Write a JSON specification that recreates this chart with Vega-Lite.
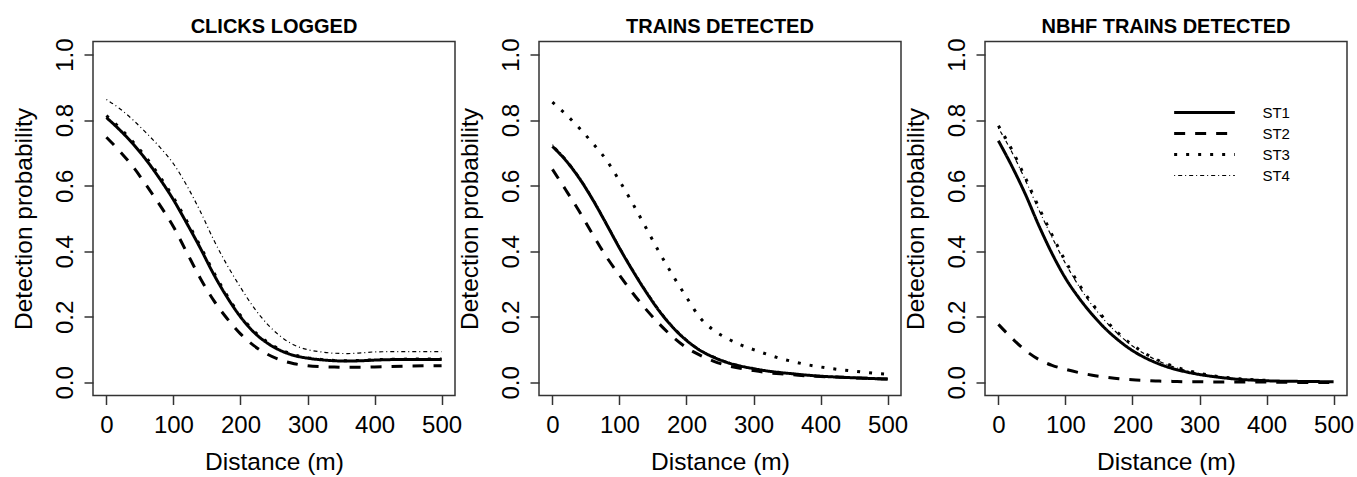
{
  "$schema": "https://vega.github.io/schema/vega-lite/v6.json",
  "autosize": {"type": "pad"},
  "padding": {"left": 10, "top": 15.5, "right": 0, "bottom": 0},
  "background": "white",
  "datasets": {
    "curves": [
      {"panel":"A","station":"ST1","d":0,"p":0.808},{"panel":"A","station":"ST1","d":20,"p":0.77},{"panel":"A","station":"ST1","d":40,"p":0.727},{"panel":"A","station":"ST1","d":60,"p":0.677},{"panel":"A","station":"ST1","d":80,"p":0.62},{"panel":"A","station":"ST1","d":100,"p":0.557},{"panel":"A","station":"ST1","d":120,"p":0.485},{"panel":"A","station":"ST1","d":140,"p":0.41},{"panel":"A","station":"ST1","d":160,"p":0.33},{"panel":"A","station":"ST1","d":180,"p":0.26},{"panel":"A","station":"ST1","d":200,"p":0.2},{"panel":"A","station":"ST1","d":220,"p":0.153},{"panel":"A","station":"ST1","d":240,"p":0.12},{"panel":"A","station":"ST1","d":260,"p":0.097},{"panel":"A","station":"ST1","d":280,"p":0.082},{"panel":"A","station":"ST1","d":300,"p":0.074},{"panel":"A","station":"ST1","d":320,"p":0.069},{"panel":"A","station":"ST1","d":340,"p":0.066},{"panel":"A","station":"ST1","d":360,"p":0.065},{"panel":"A","station":"ST1","d":380,"p":0.066},{"panel":"A","station":"ST1","d":400,"p":0.068},{"panel":"A","station":"ST1","d":450,"p":0.07},{"panel":"A","station":"ST1","d":500,"p":0.07},
      {"panel":"A","station":"ST2","d":0,"p":0.748},{"panel":"A","station":"ST2","d":20,"p":0.705},{"panel":"A","station":"ST2","d":40,"p":0.657},{"panel":"A","station":"ST2","d":60,"p":0.6},{"panel":"A","station":"ST2","d":80,"p":0.54},{"panel":"A","station":"ST2","d":100,"p":0.475},{"panel":"A","station":"ST2","d":120,"p":0.396},{"panel":"A","station":"ST2","d":140,"p":0.318},{"panel":"A","station":"ST2","d":160,"p":0.25},{"panel":"A","station":"ST2","d":180,"p":0.195},{"panel":"A","station":"ST2","d":200,"p":0.148},{"panel":"A","station":"ST2","d":220,"p":0.112},{"panel":"A","station":"ST2","d":240,"p":0.086},{"panel":"A","station":"ST2","d":260,"p":0.068},{"panel":"A","station":"ST2","d":280,"p":0.057},{"panel":"A","station":"ST2","d":300,"p":0.051},{"panel":"A","station":"ST2","d":320,"p":0.048},{"panel":"A","station":"ST2","d":340,"p":0.047},{"panel":"A","station":"ST2","d":360,"p":0.046},{"panel":"A","station":"ST2","d":380,"p":0.046},{"panel":"A","station":"ST2","d":400,"p":0.047},{"panel":"A","station":"ST2","d":450,"p":0.05},{"panel":"A","station":"ST2","d":500,"p":0.051},
      {"panel":"A","station":"ST3","d":0,"p":0.814},{"panel":"A","station":"ST3","d":20,"p":0.776},{"panel":"A","station":"ST3","d":40,"p":0.733},{"panel":"A","station":"ST3","d":60,"p":0.684},{"panel":"A","station":"ST3","d":80,"p":0.627},{"panel":"A","station":"ST3","d":100,"p":0.564},{"panel":"A","station":"ST3","d":120,"p":0.492},{"panel":"A","station":"ST3","d":140,"p":0.416},{"panel":"A","station":"ST3","d":160,"p":0.336},{"panel":"A","station":"ST3","d":180,"p":0.265},{"panel":"A","station":"ST3","d":200,"p":0.204},{"panel":"A","station":"ST3","d":220,"p":0.157},{"panel":"A","station":"ST3","d":240,"p":0.123},{"panel":"A","station":"ST3","d":260,"p":0.1},{"panel":"A","station":"ST3","d":280,"p":0.084},{"panel":"A","station":"ST3","d":300,"p":0.075},{"panel":"A","station":"ST3","d":320,"p":0.07},{"panel":"A","station":"ST3","d":340,"p":0.067},{"panel":"A","station":"ST3","d":360,"p":0.066},{"panel":"A","station":"ST3","d":380,"p":0.067},{"panel":"A","station":"ST3","d":400,"p":0.069},{"panel":"A","station":"ST3","d":450,"p":0.071},{"panel":"A","station":"ST3","d":500,"p":0.071},
      {"panel":"A","station":"ST4","d":0,"p":0.863},{"panel":"A","station":"ST4","d":20,"p":0.835},{"panel":"A","station":"ST4","d":40,"p":0.8},{"panel":"A","station":"ST4","d":60,"p":0.76},{"panel":"A","station":"ST4","d":80,"p":0.717},{"panel":"A","station":"ST4","d":100,"p":0.667},{"panel":"A","station":"ST4","d":120,"p":0.6},{"panel":"A","station":"ST4","d":140,"p":0.522},{"panel":"A","station":"ST4","d":160,"p":0.435},{"panel":"A","station":"ST4","d":180,"p":0.358},{"panel":"A","station":"ST4","d":200,"p":0.29},{"panel":"A","station":"ST4","d":220,"p":0.228},{"panel":"A","station":"ST4","d":240,"p":0.178},{"panel":"A","station":"ST4","d":260,"p":0.14},{"panel":"A","station":"ST4","d":280,"p":0.114},{"panel":"A","station":"ST4","d":300,"p":0.1},{"panel":"A","station":"ST4","d":320,"p":0.093},{"panel":"A","station":"ST4","d":340,"p":0.089},{"panel":"A","station":"ST4","d":360,"p":0.088},{"panel":"A","station":"ST4","d":380,"p":0.09},{"panel":"A","station":"ST4","d":400,"p":0.093},{"panel":"A","station":"ST4","d":450,"p":0.094},{"panel":"A","station":"ST4","d":500,"p":0.094},
      {"panel":"B","station":"ST1","d":0,"p":0.72},{"panel":"B","station":"ST1","d":20,"p":0.677},{"panel":"B","station":"ST1","d":40,"p":0.623},{"panel":"B","station":"ST1","d":60,"p":0.558},{"panel":"B","station":"ST1","d":80,"p":0.485},{"panel":"B","station":"ST1","d":100,"p":0.41},{"panel":"B","station":"ST1","d":120,"p":0.34},{"panel":"B","station":"ST1","d":140,"p":0.275},{"panel":"B","station":"ST1","d":160,"p":0.216},{"panel":"B","station":"ST1","d":180,"p":0.167},{"panel":"B","station":"ST1","d":200,"p":0.128},{"panel":"B","station":"ST1","d":220,"p":0.098},{"panel":"B","station":"ST1","d":240,"p":0.077},{"panel":"B","station":"ST1","d":260,"p":0.061},{"panel":"B","station":"ST1","d":280,"p":0.05},{"panel":"B","station":"ST1","d":300,"p":0.042},{"panel":"B","station":"ST1","d":320,"p":0.035},{"panel":"B","station":"ST1","d":340,"p":0.03},{"panel":"B","station":"ST1","d":360,"p":0.026},{"panel":"B","station":"ST1","d":380,"p":0.022},{"panel":"B","station":"ST1","d":400,"p":0.019},{"panel":"B","station":"ST1","d":450,"p":0.014},{"panel":"B","station":"ST1","d":500,"p":0.01},
      {"panel":"B","station":"ST2","d":0,"p":0.65},{"panel":"B","station":"ST2","d":20,"p":0.587},{"panel":"B","station":"ST2","d":40,"p":0.522},{"panel":"B","station":"ST2","d":60,"p":0.452},{"panel":"B","station":"ST2","d":80,"p":0.385},{"panel":"B","station":"ST2","d":100,"p":0.327},{"panel":"B","station":"ST2","d":120,"p":0.272},{"panel":"B","station":"ST2","d":140,"p":0.222},{"panel":"B","station":"ST2","d":160,"p":0.177},{"panel":"B","station":"ST2","d":180,"p":0.138},{"panel":"B","station":"ST2","d":200,"p":0.106},{"panel":"B","station":"ST2","d":220,"p":0.083},{"panel":"B","station":"ST2","d":240,"p":0.065},{"panel":"B","station":"ST2","d":260,"p":0.052},{"panel":"B","station":"ST2","d":280,"p":0.043},{"panel":"B","station":"ST2","d":300,"p":0.036},{"panel":"B","station":"ST2","d":320,"p":0.03},{"panel":"B","station":"ST2","d":340,"p":0.026},{"panel":"B","station":"ST2","d":360,"p":0.023},{"panel":"B","station":"ST2","d":380,"p":0.02},{"panel":"B","station":"ST2","d":400,"p":0.018},{"panel":"B","station":"ST2","d":450,"p":0.014},{"panel":"B","station":"ST2","d":500,"p":0.01},
      {"panel":"B","station":"ST3","d":0,"p":0.855},{"panel":"B","station":"ST3","d":20,"p":0.818},{"panel":"B","station":"ST3","d":40,"p":0.776},{"panel":"B","station":"ST3","d":60,"p":0.73},{"panel":"B","station":"ST3","d":80,"p":0.68},{"panel":"B","station":"ST3","d":100,"p":0.615},{"panel":"B","station":"ST3","d":120,"p":0.545},{"panel":"B","station":"ST3","d":140,"p":0.47},{"panel":"B","station":"ST3","d":160,"p":0.395},{"panel":"B","station":"ST3","d":180,"p":0.325},{"panel":"B","station":"ST3","d":200,"p":0.26},{"panel":"B","station":"ST3","d":220,"p":0.198},{"panel":"B","station":"ST3","d":240,"p":0.16},{"panel":"B","station":"ST3","d":260,"p":0.135},{"panel":"B","station":"ST3","d":280,"p":0.115},{"panel":"B","station":"ST3","d":300,"p":0.1},{"panel":"B","station":"ST3","d":320,"p":0.086},{"panel":"B","station":"ST3","d":340,"p":0.073},{"panel":"B","station":"ST3","d":360,"p":0.063},{"panel":"B","station":"ST3","d":380,"p":0.054},{"panel":"B","station":"ST3","d":400,"p":0.047},{"panel":"B","station":"ST3","d":450,"p":0.034},{"panel":"B","station":"ST3","d":500,"p":0.025},
      {"panel":"B","station":"ST4","d":0,"p":0.725},{"panel":"B","station":"ST4","d":20,"p":0.682},{"panel":"B","station":"ST4","d":40,"p":0.628},{"panel":"B","station":"ST4","d":60,"p":0.563},{"panel":"B","station":"ST4","d":80,"p":0.49},{"panel":"B","station":"ST4","d":100,"p":0.415},{"panel":"B","station":"ST4","d":120,"p":0.345},{"panel":"B","station":"ST4","d":140,"p":0.28},{"panel":"B","station":"ST4","d":160,"p":0.221},{"panel":"B","station":"ST4","d":180,"p":0.171},{"panel":"B","station":"ST4","d":200,"p":0.132},{"panel":"B","station":"ST4","d":220,"p":0.101},{"panel":"B","station":"ST4","d":240,"p":0.08},{"panel":"B","station":"ST4","d":260,"p":0.064},{"panel":"B","station":"ST4","d":280,"p":0.052},{"panel":"B","station":"ST4","d":300,"p":0.043},{"panel":"B","station":"ST4","d":320,"p":0.036},{"panel":"B","station":"ST4","d":340,"p":0.031},{"panel":"B","station":"ST4","d":360,"p":0.027},{"panel":"B","station":"ST4","d":380,"p":0.023},{"panel":"B","station":"ST4","d":400,"p":0.02},{"panel":"B","station":"ST4","d":450,"p":0.015},{"panel":"B","station":"ST4","d":500,"p":0.011},
      {"panel":"C","station":"ST1","d":0,"p":0.737},{"panel":"C","station":"ST1","d":20,"p":0.66},{"panel":"C","station":"ST1","d":40,"p":0.575},{"panel":"C","station":"ST1","d":60,"p":0.48},{"panel":"C","station":"ST1","d":80,"p":0.393},{"panel":"C","station":"ST1","d":100,"p":0.318},{"panel":"C","station":"ST1","d":120,"p":0.258},{"panel":"C","station":"ST1","d":140,"p":0.207},{"panel":"C","station":"ST1","d":160,"p":0.163},{"panel":"C","station":"ST1","d":180,"p":0.127},{"panel":"C","station":"ST1","d":200,"p":0.097},{"panel":"C","station":"ST1","d":220,"p":0.074},{"panel":"C","station":"ST1","d":240,"p":0.056},{"panel":"C","station":"ST1","d":260,"p":0.042},{"panel":"C","station":"ST1","d":280,"p":0.032},{"panel":"C","station":"ST1","d":300,"p":0.024},{"panel":"C","station":"ST1","d":320,"p":0.018},{"panel":"C","station":"ST1","d":340,"p":0.013},{"panel":"C","station":"ST1","d":360,"p":0.009},{"panel":"C","station":"ST1","d":380,"p":0.007},{"panel":"C","station":"ST1","d":400,"p":0.005},{"panel":"C","station":"ST1","d":450,"p":0.003},{"panel":"C","station":"ST1","d":500,"p":0.002},
      {"panel":"C","station":"ST2","d":0,"p":0.177},{"panel":"C","station":"ST2","d":20,"p":0.135},{"panel":"C","station":"ST2","d":40,"p":0.098},{"panel":"C","station":"ST2","d":60,"p":0.07},{"panel":"C","station":"ST2","d":80,"p":0.052},{"panel":"C","station":"ST2","d":100,"p":0.04},{"panel":"C","station":"ST2","d":120,"p":0.03},{"panel":"C","station":"ST2","d":140,"p":0.022},{"panel":"C","station":"ST2","d":160,"p":0.016},{"panel":"C","station":"ST2","d":180,"p":0.011},{"panel":"C","station":"ST2","d":200,"p":0.008},{"panel":"C","station":"ST2","d":220,"p":0.006},{"panel":"C","station":"ST2","d":240,"p":0.004},{"panel":"C","station":"ST2","d":260,"p":0.003},{"panel":"C","station":"ST2","d":280,"p":0.002},{"panel":"C","station":"ST2","d":300,"p":0.002},{"panel":"C","station":"ST2","d":320,"p":0.001},{"panel":"C","station":"ST2","d":340,"p":0.001},{"panel":"C","station":"ST2","d":360,"p":0.001},{"panel":"C","station":"ST2","d":380,"p":0.001},{"panel":"C","station":"ST2","d":400,"p":0.001},{"panel":"C","station":"ST2","d":450,"p":0.0},{"panel":"C","station":"ST2","d":500,"p":0.0},
      {"panel":"C","station":"ST3","d":0,"p":0.783},{"panel":"C","station":"ST3","d":20,"p":0.71},{"panel":"C","station":"ST3","d":40,"p":0.625},{"panel":"C","station":"ST3","d":60,"p":0.535},{"panel":"C","station":"ST3","d":80,"p":0.45},{"panel":"C","station":"ST3","d":100,"p":0.37},{"panel":"C","station":"ST3","d":120,"p":0.3},{"panel":"C","station":"ST3","d":140,"p":0.24},{"panel":"C","station":"ST3","d":160,"p":0.19},{"panel":"C","station":"ST3","d":180,"p":0.148},{"panel":"C","station":"ST3","d":200,"p":0.114},{"panel":"C","station":"ST3","d":220,"p":0.087},{"panel":"C","station":"ST3","d":240,"p":0.066},{"panel":"C","station":"ST3","d":260,"p":0.05},{"panel":"C","station":"ST3","d":280,"p":0.037},{"panel":"C","station":"ST3","d":300,"p":0.028},{"panel":"C","station":"ST3","d":320,"p":0.02},{"panel":"C","station":"ST3","d":340,"p":0.015},{"panel":"C","station":"ST3","d":360,"p":0.011},{"panel":"C","station":"ST3","d":380,"p":0.008},{"panel":"C","station":"ST3","d":400,"p":0.006},
      {"panel":"C","station":"ST4","d":0,"p":0.776},{"panel":"C","station":"ST4","d":20,"p":0.703},{"panel":"C","station":"ST4","d":40,"p":0.618},{"panel":"C","station":"ST4","d":60,"p":0.528},{"panel":"C","station":"ST4","d":80,"p":0.443},{"panel":"C","station":"ST4","d":100,"p":0.363},{"panel":"C","station":"ST4","d":120,"p":0.294},{"panel":"C","station":"ST4","d":140,"p":0.235},{"panel":"C","station":"ST4","d":160,"p":0.186},{"panel":"C","station":"ST4","d":180,"p":0.145},{"panel":"C","station":"ST4","d":200,"p":0.111},{"panel":"C","station":"ST4","d":220,"p":0.085},{"panel":"C","station":"ST4","d":240,"p":0.064},{"panel":"C","station":"ST4","d":260,"p":0.048},{"panel":"C","station":"ST4","d":280,"p":0.036},{"panel":"C","station":"ST4","d":300,"p":0.027},{"panel":"C","station":"ST4","d":320,"p":0.019},{"panel":"C","station":"ST4","d":340,"p":0.014},{"panel":"C","station":"ST4","d":360,"p":0.01},{"panel":"C","station":"ST4","d":380,"p":0.007},{"panel":"C","station":"ST4","d":400,"p":0.005}
    ]
  },
  "data": {"name": "curves"},
  "spacing": 84,
  "bounds": "flush",
  "resolve": {
    "scale": {"strokeDash": "independent", "x": "independent", "y": "independent"},
    "axis": {"x": "independent", "y": "independent"},
    "legend": {"strokeDash": "independent"}
  },
  "hconcat": [
    {
      "width": 362, "height": 354,
      "title": {"text": "CLICKS LOGGED"},
      "transform": [{"filter": "datum.panel === 'A'"}],
      "mark": {"type": "line", "interpolate": "monotone", "color": "black"},
      "encoding": {
        "x": {"field": "d", "type": "quantitative", "scale": {"domain": [-20, 520], "nice": false, "zero": false}, "axis": {"title": "Distance (m)", "values": [0, 100, 200, 300, 400, 500]}},
        "y": {"field": "p", "type": "quantitative", "scale": {"domain": [-0.04, 1.04], "nice": false, "zero": false}, "axis": {"title": "Detection probability", "values": [0, 0.2, 0.4, 0.6, 0.8, 1], "format": ".1f"}},
        "strokeDash": {"field": "station", "type": "nominal", "scale": {"domain": ["ST1", "ST2", "ST3", "ST4"], "range": [[1, 0], [11, 10], [3, 9], [1, 3, 4, 3]]}, "legend": null},
        "strokeWidth": {"condition": {"test": "datum.station === 'ST4'", "value": 1.2}, "value": 3}
      }
    },
    {
      "width": 362, "height": 354,
      "title": {"text": "TRAINS DETECTED"},
      "transform": [{"filter": "datum.panel === 'B'"}],
      "mark": {"type": "line", "interpolate": "monotone", "color": "black"},
      "encoding": {
        "x": {"field": "d", "type": "quantitative", "scale": {"domain": [-20, 520], "nice": false, "zero": false}, "axis": {"title": "Distance (m)", "values": [0, 100, 200, 300, 400, 500]}},
        "y": {"field": "p", "type": "quantitative", "scale": {"domain": [-0.04, 1.04], "nice": false, "zero": false}, "axis": {"title": "Detection probability", "values": [0, 0.2, 0.4, 0.6, 0.8, 1], "format": ".1f"}},
        "strokeDash": {"field": "station", "type": "nominal", "scale": {"domain": ["ST1", "ST2", "ST3", "ST4"], "range": [[1, 0], [11, 10], [3, 9], [1, 3, 4, 3]]}, "legend": null},
        "strokeWidth": {"condition": {"test": "datum.station === 'ST4'", "value": 1.2}, "value": 3}
      }
    },
    {
      "width": 362, "height": 354,
      "title": {"text": "NBHF TRAINS DETECTED"},
      "transform": [{"filter": "datum.panel === 'C'"}],
      "mark": {"type": "line", "interpolate": "monotone", "color": "black"},
      "encoding": {
        "x": {"field": "d", "type": "quantitative", "scale": {"domain": [-20, 520], "nice": false, "zero": false}, "axis": {"title": "Distance (m)", "values": [0, 100, 200, 300, 400, 500]}},
        "y": {"field": "p", "type": "quantitative", "scale": {"domain": [-0.04, 1.04], "nice": false, "zero": false}, "axis": {"title": "Detection probability", "values": [0, 0.2, 0.4, 0.6, 0.8, 1], "format": ".1f"}},
        "strokeDash": {
          "field": "station", "type": "nominal",
          "scale": {"domain": ["ST1", "ST2", "ST3", "ST4"], "range": [[1, 0], [11, 10], [3, 9], [1, 3, 4, 3]]},
          "legend": {
            "title": null, "orient": "none", "legendX": 212, "legendY": 63.5,
            "symbolType": "stroke", "symbolSize": 3684, "symbolStrokeWidth": 3, "symbolStrokeColor": "black",
            "rowPadding": 5, "labelOffset": 50.4, "padding": 0,
            "labelFont": "Liberation Sans", "labelFontSize": 15, "labelColor": "black",
            "encode": {"symbols": {"update": {"strokeWidth": {"signal": "datum.value === 'ST4' ? 1.2 : 3"}}}}
          }
        },
        "strokeWidth": {"condition": {"test": "datum.station === 'ST4'", "value": 1.2}, "value": 3}
      }
    }
  ],
  "config": {
    "font": "Liberation Sans",
    "view": {"stroke": "#333333", "strokeWidth": 1.5},
    "axis": {
      "grid": false, "domain": false, "tickColor": "#333333", "tickWidth": 1.5, "tickSize": 9,
      "labelFont": "Liberation Sans", "labelFontSize": 24, "labelColor": "black",
      "titleFont": "Liberation Sans", "titleFontSize": 24.5, "titleFontWeight": "normal", "titleColor": "black",
      "labelFlush": false, "labelOverlap": false
    },
    "axisX": {"labelPadding": 9, "titlePadding": 13},
    "axisY": {"labelAngle": -90, "labelAlign": "center", "labelBaseline": "bottom", "labelPadding": 6.7, "titlePadding": 16.8},
    "title": {"font": "Liberation Sans", "fontSize": 20, "fontWeight": "bold", "color": "black", "baseline": "alphabetic", "offset": 1, "anchor": "middle", "frame": "group"}
  }
}
